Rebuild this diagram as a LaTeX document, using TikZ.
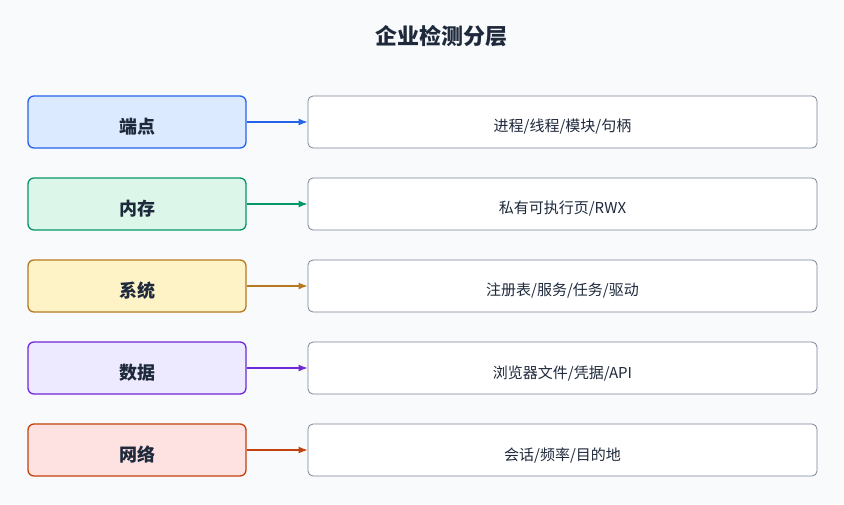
\documentclass[tikz,border=0pt]{standalone}
\usepackage{fontspec}
\newfontfamily\cjk{Noto Sans CJK SC}
\usetikzlibrary{arrows.meta}
\definecolor{bg}{HTML}{F8FAFC}
\definecolor{txt}{HTML}{1E293B}
\definecolor{gb}{HTML}{7B8598}
\begin{document}
\begin{tikzpicture}[x=1pt,y=-1pt,
  lay/.style={draw=#1,line width=1.3pt,rounded corners=6pt,minimum width=218pt,minimum height=52pt,inner sep=0pt,font=\cjk\bfseries\fontsize{18}{20}\selectfont,text=txt},
  det/.style={draw=gb,fill=white,line width=0.8pt,rounded corners=5pt,minimum width=509pt,minimum height=52pt,inner sep=0pt,font=\cjk\fontsize{15}{17}\selectfont,text=txt},
  tx/.style={font=\cjk\bfseries\fontsize{18}{20}\selectfont,text=txt},
  ty/.style={font=\cjk\fontsize{15}{17}\selectfont,text=txt},
  con/.style={draw=#1,line width=1.2pt,-{Latex[length=9pt,width=7pt]}}]
\fill[bg] (0,0) rectangle (844,504);
\node[font=\cjk\bfseries\fontsize{22}{26}\selectfont,text=txt] (title) at (441,36) {企业检测分层};
\def\row#1#2#3#4#5{
  \definecolor{s#1}{HTML}{#2}\definecolor{f#1}{HTML}{#3}
  \node[lay=s#1,fill=f#1] (l#1) at (137,{122+82*(#1-1)}) {};
  \node[tx] (lt#1) at (137,{127+82*(#1-1)}) {#4};
  \node[det] (r#1) at (562.5,{122+82*(#1-1)}) {};
  \node[ty] (rt#1) at (562.5,{127+82*(#1-1)}) {#5};
  \draw[con=s#1] (l#1) -- (r#1);}
\row{1}{2563EB}{DBEAFE}{端点}{进程/线程/模块/句柄}
\row{2}{059669}{DCF7EA}{内存}{私有可执行页/RWX}
\row{3}{B7791F}{FEF3C7}{系统}{注册表/服务/任务/驱动}
\row{4}{6D28D9}{EDE9FE}{数据}{浏览器文件/凭据/API}
\row{5}{C2410C}{FEE2E2}{网络}{会话/频率/目的地}
\end{tikzpicture}
\end{document}
